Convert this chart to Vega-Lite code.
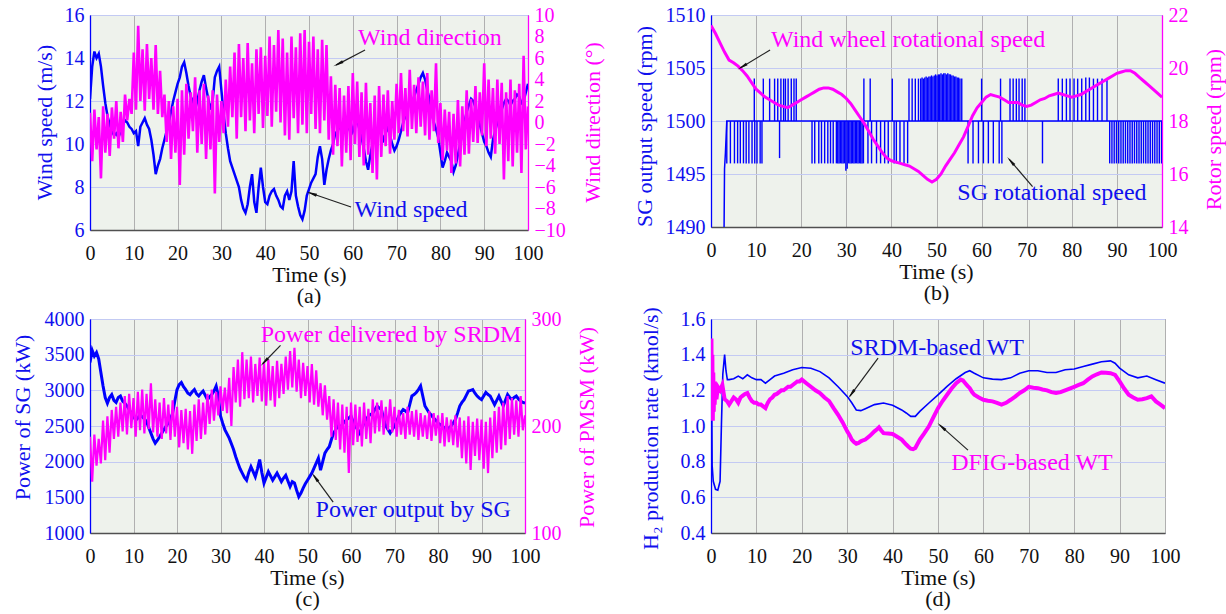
{
"$schema": "https://vega.github.io/schema/vega-lite/v6.json",
"autosize": {"type": "none"},
"padding": {"left": 90, "top": 15, "right": 1136, "bottom": 599},
"background": "white",
"config": {
 "font": "Liberation Serif, Times New Roman, DejaVu Serif, serif",
 "view": {"fill": "#eef2ec", "stroke": "#4d4d4d", "strokeWidth": 1},
 "axis": {"labelFont": "Liberation Serif, Times New Roman, DejaVu Serif, serif", "titleFont": "Liberation Serif, Times New Roman, DejaVu Serif, serif", "labelFontSize": 20, "titleFontSize": 22, "titleFontWeight": "normal", "ticks": false, "tickSize": 0, "labelFlush": false, "labelOverlap": false, "labelPadding": 6, "domainWidth": 1.3, "gridWidth": 1},
 "title": {"font": "Liberation Serif, Times New Roman, DejaVu Serif, serif", "fontSize": 22, "fontWeight": "normal", "color": "#111111"},
 "text": {"font": "Liberation Serif, Times New Roman, DejaVu Serif, serif"}
},
"datasets": {
 "a": [{"t":0,"s":12.1,"d":0.9},{"t":0.5,"s":13.6,"d":-3.6},{"t":1,"s":14.3,"d":1.2},{"t":1.5,"s":14.0,"d":-2.5},{"t":2,"s":14.2,"d":0.5},{"t":2.5,"s":13.6,"d":-5.2},{"t":3,"s":12.7,"d":1.5},{"t":3.5,"s":11.9,"d":-2.8},{"t":4,"s":11.3,"d":0.8},{"t":4.5,"s":10.9,"d":-3.1},{"t":5,"s":10.6,"d":1.4},{"t":5.5,"s":10.4,"d":-1.5},{"t":6,"s":10.5,"d":2.0},{"t":6.5,"s":10.3,"d":-2.4},{"t":7,"s":10.6,"d":1.0},{"t":7.5,"s":10.9,"d":-1.8},{"t":8,"s":11.1,"d":2.6},{"t":8.5,"s":11.0,"d":0.2},{"t":9,"s":10.8,"d":2.2},{"t":9.5,"s":10.7,"d":0.8},{"t":10,"s":10.5,"d":6.5},{"t":10.5,"s":10.6,"d":1.2},{"t":11,"s":9.9,"d":9.0},{"t":11.5,"s":10.8,"d":2.0},{"t":12,"s":11.0,"d":6.8},{"t":12.5,"s":11.2,"d":1.1},{"t":13,"s":10.9,"d":7.3},{"t":13.5,"s":10.7,"d":2.2},{"t":14,"s":10.2,"d":6.0},{"t":14.5,"s":9.5,"d":1.2},{"t":15,"s":8.6,"d":7.2},{"t":15.5,"s":9.0,"d":0.8},{"t":16,"s":9.3,"d":4.8},{"t":16.5,"s":9.8,"d":0.5},{"t":17,"s":10.2,"d":2.6},{"t":17.5,"s":10.6,"d":-1.8},{"t":18,"s":11.0,"d":2.0},{"t":18.5,"s":11.5,"d":-3.4},{"t":19,"s":12.0,"d":1.5},{"t":19.5,"s":12.4,"d":-2.8},{"t":20,"s":12.8,"d":2.2},{"t":20.5,"s":13.1,"d":-5.8},{"t":21,"s":13.6,"d":3.0},{"t":21.5,"s":13.8,"d":-3.0},{"t":22,"s":13.3,"d":3.6},{"t":22.5,"s":12.7,"d":-1.5},{"t":23,"s":12.2,"d":2.8},{"t":23.5,"s":12.0,"d":-0.8},{"t":24,"s":11.6,"d":4.2},{"t":24.5,"s":12.0,"d":-2.8},{"t":25,"s":12.5,"d":3.0},{"t":25.5,"s":12.9,"d":-2.0},{"t":26,"s":13.2,"d":3.6},{"t":26.5,"s":12.6,"d":-3.4},{"t":27,"s":12.1,"d":2.5},{"t":27.5,"s":11.6,"d":-2.5},{"t":28,"s":12.0,"d":3.0},{"t":28.5,"s":13.1,"d":-6.6},{"t":29,"s":13.4,"d":2.6},{"t":29.5,"s":13.6,"d":-1.8},{"t":30,"s":12.5,"d":2.0},{"t":30.5,"s":11.4,"d":-1.0},{"t":31,"s":10.5,"d":4.0},{"t":31.5,"s":9.8,"d":-0.4},{"t":32,"s":9.2,"d":5.2},{"t":32.5,"s":8.9,"d":0.5},{"t":33,"s":8.6,"d":6.5},{"t":33.5,"s":8.3,"d":-1.5},{"t":34,"s":8.0,"d":7.3},{"t":34.5,"s":7.4,"d":0.5},{"t":35,"s":7.0,"d":6.0},{"t":35.5,"s":6.8,"d":-0.8},{"t":36,"s":7.2,"d":7.4},{"t":36.5,"s":8.0,"d":0.2},{"t":37,"s":8.6,"d":5.5},{"t":37.5,"s":7.3,"d":-1.0},{"t":38,"s":6.8,"d":6.8},{"t":38.5,"s":8.0,"d":0.8},{"t":39,"s":8.9,"d":7.0},{"t":39.5,"s":8.0,"d":-0.5},{"t":40,"s":7.3,"d":6.2},{"t":40.5,"s":7.2,"d":0.6},{"t":41,"s":7.6,"d":8.0},{"t":41.5,"s":7.8,"d":-0.4},{"t":42,"s":7.9,"d":7.2},{"t":42.5,"s":7.6,"d":1.0},{"t":43,"s":7.4,"d":8.6},{"t":43.5,"s":7.1,"d":0.0},{"t":44,"s":7.0,"d":7.8},{"t":44.5,"s":7.6,"d":-1.2},{"t":45,"s":7.8,"d":6.5},{"t":45.5,"s":7.4,"d":-1.6},{"t":46,"s":7.8,"d":8.0},{"t":46.5,"s":9.2,"d":0.4},{"t":47,"s":7.6,"d":7.0},{"t":47.5,"s":7.1,"d":-1.0},{"t":48,"s":6.7,"d":8.3},{"t":48.5,"s":6.5,"d":-0.2},{"t":49,"s":6.9,"d":8.6},{"t":49.5,"s":7.6,"d":-1.0},{"t":50,"s":7.9,"d":7.5},{"t":50.5,"s":8.2,"d":0.8},{"t":51,"s":8.4,"d":8.0},{"t":51.5,"s":8.6,"d":-0.6},{"t":52,"s":9.4,"d":6.8},{"t":52.5,"s":9.9,"d":-1.0},{"t":53,"s":9.3,"d":7.7},{"t":53.5,"s":8.1,"d":0.2},{"t":54,"s":8.8,"d":7.2},{"t":54.5,"s":9.3,"d":-1.6},{"t":55,"s":9.7,"d":4.3},{"t":55.5,"s":10.0,"d":-3.0},{"t":56,"s":10.5,"d":3.5},{"t":56.5,"s":10.6,"d":-2.2},{"t":57,"s":10.8,"d":3.2},{"t":57.5,"s":10.9,"d":-4.1},{"t":58,"s":10.7,"d":2.5},{"t":58.5,"s":10.5,"d":-2.8},{"t":59,"s":10.8,"d":3.4},{"t":59.5,"s":11.0,"d":-3.5},{"t":60,"s":10.6,"d":4.6},{"t":60.5,"s":10.9,"d":-2.0},{"t":61,"s":11.1,"d":3.8},{"t":61.5,"s":10.7,"d":-3.2},{"t":62,"s":10.3,"d":2.8},{"t":62.5,"s":9.8,"d":-4.0},{"t":63,"s":9.2,"d":3.7},{"t":63.5,"s":8.8,"d":-3.0},{"t":64,"s":9.5,"d":1.8},{"t":64.5,"s":10.0,"d":-4.7},{"t":65,"s":10.2,"d":2.5},{"t":65.5,"s":10.6,"d":-5.3},{"t":66,"s":10.9,"d":3.4},{"t":66.5,"s":10.5,"d":-3.2},{"t":67,"s":10.2,"d":2.6},{"t":67.5,"s":10.5,"d":-2.2},{"t":68,"s":10.8,"d":3.0},{"t":68.5,"s":10.4,"d":-2.9},{"t":69,"s":10.0,"d":2.0},{"t":69.5,"s":9.7,"d":-1.6},{"t":70,"s":9.9,"d":3.6},{"t":70.5,"s":10.2,"d":-1.0},{"t":71,"s":10.6,"d":4.6},{"t":71.5,"s":11.0,"d":-0.8},{"t":72,"s":11.3,"d":3.2},{"t":72.5,"s":11.7,"d":-1.3},{"t":73,"s":12.0,"d":4.9},{"t":73.5,"s":11.8,"d":-0.6},{"t":74,"s":12.2,"d":3.5},{"t":74.5,"s":12.5,"d":-1.0},{"t":75,"s":12.8,"d":4.2},{"t":75.5,"s":13.1,"d":-0.4},{"t":76,"s":13.3,"d":3.8},{"t":76.5,"s":13.0,"d":-1.2},{"t":77,"s":12.5,"d":4.6},{"t":77.5,"s":12.1,"d":-1.6},{"t":78,"s":11.5,"d":3.0},{"t":78.5,"s":11.0,"d":-0.8},{"t":79,"s":10.7,"d":5.5},{"t":79.5,"s":10.3,"d":-1.9},{"t":80,"s":9.6,"d":1.8},{"t":80.5,"s":8.9,"d":-3.5},{"t":81,"s":9.2,"d":1.2},{"t":81.5,"s":9.6,"d":-2.6},{"t":82,"s":9.4,"d":1.0},{"t":82.5,"s":9.2,"d":-4.7},{"t":83,"s":8.7,"d":0.8},{"t":83.5,"s":9.0,"d":-3.8},{"t":84,"s":9.5,"d":2.1},{"t":84.5,"s":10.0,"d":-4.1},{"t":85,"s":10.5,"d":1.5},{"t":85.5,"s":11.0,"d":-3.0},{"t":86,"s":11.5,"d":3.0},{"t":86.5,"s":11.8,"d":-2.9},{"t":87,"s":12.1,"d":2.2},{"t":87.5,"s":12.0,"d":-1.8},{"t":88,"s":11.7,"d":3.4},{"t":88.5,"s":11.3,"d":-1.9},{"t":89,"s":10.9,"d":2.8},{"t":89.5,"s":10.5,"d":-1.2},{"t":90,"s":10.1,"d":5.5},{"t":90.5,"s":9.9,"d":-2.2},{"t":91,"s":9.6,"d":4.0},{"t":91.5,"s":9.4,"d":-1.5},{"t":92,"s":10.2,"d":3.2},{"t":92.5,"s":10.6,"d":-2.9},{"t":93,"s":11.0,"d":4.0},{"t":93.5,"s":11.3,"d":-2.0},{"t":94,"s":11.6,"d":3.7},{"t":94.5,"s":11.9,"d":-5.3},{"t":95,"s":12.1,"d":2.8},{"t":95.5,"s":12.0,"d":-3.6},{"t":96,"s":11.8,"d":4.0},{"t":96.5,"s":12.0,"d":-4.1},{"t":97,"s":12.1,"d":3.0},{"t":97.5,"s":12.3,"d":-2.8},{"t":98,"s":12.2,"d":3.6},{"t":98.5,"s":11.9,"d":-4.7},{"t":99,"s":12.0,"d":6.2},{"t":99.5,"s":12.4,"d":-2.5},{"t":100,"s":12.8,"d":1.5}],
 "b_base": [{"t":2.9,"v":1490},{"t":3.0,"v":1495.5},{"t":3.2,"v":1497},{"t":3.5,"v":1500},{"t":100,"v":1500}],
 "b_spk": [{"t":3.5,"v":1496},{"t":4.3,"v":1496},{"t":5.2,"v":1496},{"t":5.9,"v":1496},{"t":6.5,"v":1496},{"t":7.2,"v":1496},{"t":7.8,"v":1496},{"t":8.4,"v":1496},{"t":9.1,"v":1496},{"t":9.7,"v":1496},{"t":10.2,"v":1496},{"t":10.9,"v":1496},{"t":11.3,"v":1496},{"t":15.2,"v":1496.5},
  {"t":9.6,"v":1504},{"t":11.6,"v":1504},{"t":13.0,"v":1504},{"t":14.1,"v":1504},{"t":14.8,"v":1504},{"t":15.5,"v":1504},{"t":16.1,"v":1504},{"t":16.5,"v":1504},{"t":17.1,"v":1504},{"t":17.8,"v":1504},{"t":18.4,"v":1504},{"t":18.9,"v":1504},
  {"t":22.4,"v":1496},{"t":23.0,"v":1496},{"t":23.9,"v":1496},{"t":24.5,"v":1496},{"t":25.2,"v":1496},{"t":25.9,"v":1496},{"t":26.5,"v":1496},{"t":27.1,"v":1496},{"t":27.8,"v":1496},{"t":28.1,"v":1496},{"t":28.4,"v":1496},{"t":28.7,"v":1496},{"t":29.0,"v":1496},{"t":29.3,"v":1496},{"t":29.6,"v":1496},{"t":29.9,"v":1495.3},{"t":30.2,"v":1495.5},{"t":30.5,"v":1496},{"t":30.8,"v":1496},{"t":31.1,"v":1496},{"t":31.4,"v":1496},{"t":31.7,"v":1496},{"t":32.0,"v":1496},{"t":32.3,"v":1496},{"t":32.6,"v":1496},{"t":32.9,"v":1496},{"t":33.2,"v":1496},{"t":33.5,"v":1496},{"t":33.8,"v":1496},{"t":34.8,"v":1496},{"t":35.6,"v":1496},{"t":36.7,"v":1496},{"t":37.6,"v":1496},{"t":38.5,"v":1496},{"t":39.3,"v":1496},{"t":40.6,"v":1496},{"t":41.1,"v":1496},{"t":41.9,"v":1496},{"t":42.8,"v":1496},{"t":43.6,"v":1496},
  {"t":33.9,"v":1504},{"t":35.3,"v":1504},{"t":40.2,"v":1504},{"t":43.9,"v":1504},{"t":44.6,"v":1504},{"t":45.3,"v":1504},{"t":46.0,"v":1504},{"t":46.5,"v":1504.0},{"t":46.8,"v":1504.1},{"t":47.1,"v":1504.0},{"t":47.4,"v":1504.1},{"t":47.7,"v":1504.2},{"t":48.0,"v":1504.1},{"t":48.3,"v":1504.2},{"t":48.6,"v":1504.2},{"t":48.9,"v":1504.3},{"t":49.2,"v":1504.2},{"t":49.5,"v":1504.3},{"t":49.8,"v":1504.4},{"t":50.1,"v":1504.3},{"t":50.4,"v":1504.4},{"t":50.7,"v":1504.4},{"t":51.0,"v":1504.5},{"t":51.3,"v":1504.4},{"t":51.6,"v":1504.5},{"t":51.9,"v":1504.5},{"t":52.2,"v":1504.4},{"t":52.5,"v":1504.5},{"t":52.8,"v":1504.4},{"t":53.1,"v":1504.4},{"t":53.4,"v":1504.3},{"t":53.7,"v":1504.3},{"t":54.0,"v":1504.2},{"t":54.3,"v":1504.2},{"t":54.6,"v":1504.1},{"t":54.9,"v":1504.1},{"t":55.2,"v":1504.0},{"t":55.6,"v":1504.0},
  {"t":57.0,"v":1496},{"t":58.1,"v":1496},{"t":59.3,"v":1496},{"t":60.4,"v":1496},{"t":61.5,"v":1496},{"t":62.6,"v":1496},{"t":63.9,"v":1496},{"t":64.5,"v":1496},
  {"t":60.0,"v":1504},{"t":64.2,"v":1504},{"t":66.3,"v":1504},{"t":67.0,"v":1504},{"t":67.7,"v":1504},{"t":68.3,"v":1504},{"t":69.0,"v":1504},{"t":69.6,"v":1504},
  {"t":73.5,"v":1496},
  {"t":77.0,"v":1504},{"t":77.9,"v":1504},{"t":78.8,"v":1504},{"t":79.6,"v":1504},{"t":80.5,"v":1504},{"t":81.3,"v":1504},{"t":82.2,"v":1504},{"t":83.1,"v":1504.1},{"t":83.9,"v":1504.1},{"t":84.8,"v":1504},{"t":85.7,"v":1504},{"t":86.7,"v":1504},{"t":87.8,"v":1504},
  {"t":88.4,"v":1496},{"t":88.9,"v":1496},{"t":89.4,"v":1496},{"t":89.9,"v":1496},{"t":90.4,"v":1496},{"t":90.9,"v":1496},{"t":91.4,"v":1496},{"t":91.9,"v":1496},{"t":92.4,"v":1496},{"t":92.9,"v":1496},{"t":93.4,"v":1496},{"t":93.9,"v":1496},{"t":94.4,"v":1496},{"t":94.9,"v":1496},{"t":95.4,"v":1496},{"t":95.9,"v":1496},{"t":96.4,"v":1496},{"t":96.9,"v":1496},{"t":97.4,"v":1496},{"t":97.9,"v":1496},{"t":98.4,"v":1496},{"t":98.9,"v":1496},{"t":99.4,"v":1496},{"t":99.9,"v":1496}],
 "b_ww": [{"t":0,"r":21.6},{"t":1,"r":21.3},{"t":2,"r":20.95},{"t":3,"r":20.6},{"t":4,"r":20.3},{"t":5,"r":20.2},{"t":6,"r":20.07},{"t":7,"r":19.9},{"t":8,"r":19.7},{"t":9,"r":19.45},{"t":10,"r":19.2},{"t":11,"r":19.05},{"t":12,"r":18.9},{"t":13,"r":18.8},{"t":14,"r":18.7},{"t":15,"r":18.6},{"t":16,"r":18.55},{"t":17,"r":18.5},{"t":18,"r":18.6},{"t":19,"r":18.7},{"t":20,"r":18.8},{"t":21,"r":18.9},{"t":22,"r":19.0},{"t":23,"r":19.1},{"t":24,"r":19.2},{"t":25,"r":19.25},{"t":26,"r":19.25},{"t":27,"r":19.2},{"t":28,"r":19.1},{"t":29,"r":19.0},{"t":30,"r":18.85},{"t":31,"r":18.65},{"t":32,"r":18.4},{"t":33,"r":18.15},{"t":34,"r":17.9},{"t":35,"r":17.6},{"t":36,"r":17.3},{"t":37,"r":17.05},{"t":38,"r":16.8},{"t":39,"r":16.6},{"t":40,"r":16.5},{"t":41,"r":16.45},{"t":42,"r":16.4},{"t":43,"r":16.35},{"t":44,"r":16.3},{"t":45,"r":16.2},{"t":46,"r":16.1},{"t":47,"r":15.95},{"t":48,"r":15.8},{"t":49,"r":15.7},{"t":50,"r":15.8},{"t":51,"r":16.0},{"t":52,"r":16.3},{"t":53,"r":16.55},{"t":54,"r":16.8},{"t":55,"r":17.1},{"t":56,"r":17.4},{"t":57,"r":17.8},{"t":58,"r":18.2},{"t":59,"r":18.5},{"t":60,"r":18.7},{"t":61,"r":18.9},{"t":62,"r":19.0},{"t":63,"r":18.95},{"t":64,"r":18.9},{"t":65,"r":18.8},{"t":66,"r":18.7},{"t":67,"r":18.7},{"t":68,"r":18.7},{"t":69,"r":18.6},{"t":70,"r":18.55},{"t":71,"r":18.6},{"t":72,"r":18.7},{"t":73,"r":18.8},{"t":74,"r":18.85},{"t":75,"r":18.95},{"t":76,"r":19.0},{"t":77,"r":19.05},{"t":78,"r":19.0},{"t":79,"r":18.95},{"t":80,"r":18.9},{"t":81,"r":18.95},{"t":82,"r":19.0},{"t":83,"r":19.1},{"t":84,"r":19.2},{"t":85,"r":19.3},{"t":86,"r":19.4},{"t":87,"r":19.5},{"t":88,"r":19.6},{"t":89,"r":19.7},{"t":90,"r":19.8},{"t":91,"r":19.85},{"t":92,"r":19.9},{"t":93,"r":19.9},{"t":94,"r":19.8},{"t":95,"r":19.65},{"t":96,"r":19.5},{"t":97,"r":19.35},{"t":98,"r":19.2},{"t":99,"r":19.05},{"t":100,"r":18.9}],
 "c": [{"t":0,"p":3390,"q":190},{"t":0.5,"p":3560,"q":148},{"t":1,"p":3480,"q":192},{"t":1.5,"p":3530,"q":163},{"t":2,"p":3440,"q":188},{"t":2.5,"p":3250,"q":165},{"t":3,"p":3060,"q":205},{"t":3.5,"p":2900,"q":168},{"t":4,"p":2820,"q":209},{"t":4.5,"p":2900,"q":175},{"t":5,"p":2940,"q":215},{"t":5.5,"p":2860,"q":188},{"t":6,"p":2830,"q":218},{"t":6.5,"p":2900,"q":190},{"t":7,"p":2920,"q":222},{"t":7.5,"p":2850,"q":195},{"t":8,"p":2820,"q":228},{"t":8.5,"p":2780,"q":192},{"t":9,"p":2730,"q":230},{"t":9.5,"p":2680,"q":198},{"t":10,"p":2640,"q":226},{"t":10.5,"p":2580,"q":190},{"t":11,"p":2610,"q":232},{"t":11.5,"p":2660,"q":196},{"t":12,"p":2630,"q":234},{"t":12.5,"p":2600,"q":193},{"t":13,"p":2560,"q":230},{"t":13.5,"p":2480,"q":197},{"t":14,"p":2400,"q":240},{"t":14.5,"p":2320,"q":194},{"t":15,"p":2260,"q":225},{"t":15.5,"p":2300,"q":190},{"t":16,"p":2350,"q":222},{"t":16.5,"p":2400,"q":188},{"t":17,"p":2450,"q":226},{"t":17.5,"p":2500,"q":193},{"t":18,"p":2540,"q":220},{"t":18.5,"p":2600,"q":187},{"t":19,"p":2680,"q":224},{"t":19.5,"p":2850,"q":190},{"t":20,"p":3010,"q":218},{"t":20.5,"p":3080,"q":180},{"t":21,"p":3110,"q":215},{"t":21.5,"p":3050,"q":184},{"t":22,"p":3010,"q":216},{"t":22.5,"p":2960,"q":178},{"t":23,"p":2940,"q":214},{"t":23.5,"p":2980,"q":174},{"t":24,"p":3010,"q":220},{"t":24.5,"p":2950,"q":186},{"t":25,"p":2920,"q":225},{"t":25.5,"p":2960,"q":188},{"t":26,"p":2990,"q":222},{"t":26.5,"p":2930,"q":192},{"t":27,"p":2870,"q":230},{"t":27.5,"p":2910,"q":202},{"t":28,"p":2940,"q":234},{"t":28.5,"p":2990,"q":205},{"t":29,"p":3060,"q":232},{"t":29.5,"p":2920,"q":210},{"t":30,"p":2640,"q":237},{"t":30.5,"p":2540,"q":214},{"t":31,"p":2450,"q":236},{"t":31.5,"p":2390,"q":212},{"t":32,"p":2330,"q":245},{"t":32.5,"p":2250,"q":200},{"t":33,"p":2170,"q":255},{"t":33.5,"p":2070,"q":222},{"t":34,"p":1980,"q":262},{"t":34.5,"p":1900,"q":218},{"t":35,"p":1840,"q":269},{"t":35.5,"p":1780,"q":225},{"t":36,"p":1740,"q":262},{"t":36.5,"p":1850,"q":226},{"t":37,"p":1930,"q":265},{"t":37.5,"p":1860,"q":222},{"t":38,"p":1790,"q":258},{"t":38.5,"p":1900,"q":228},{"t":39,"p":2030,"q":264},{"t":39.5,"p":1850,"q":223},{"t":40,"p":1700,"q":260},{"t":40.5,"p":1780,"q":219},{"t":41,"p":1860,"q":262},{"t":41.5,"p":1800,"q":224},{"t":42,"p":1740,"q":256},{"t":42.5,"p":1790,"q":218},{"t":43,"p":1840,"q":261},{"t":43.5,"p":1780,"q":226},{"t":44,"p":1720,"q":258},{"t":44.5,"p":1770,"q":230},{"t":45,"p":1810,"q":265},{"t":45.5,"p":1730,"q":234},{"t":46,"p":1650,"q":270},{"t":46.5,"p":1720,"q":236},{"t":47,"p":1700,"q":273},{"t":47.5,"p":1600,"q":232},{"t":48,"p":1510,"q":262},{"t":48.5,"p":1560,"q":226},{"t":49,"p":1630,"q":259},{"t":49.5,"p":1690,"q":228},{"t":50,"p":1740,"q":256},{"t":50.5,"p":1790,"q":222},{"t":51,"p":1840,"q":258},{"t":51.5,"p":1910,"q":220},{"t":52,"p":1980,"q":252},{"t":52.5,"p":2050,"q":218},{"t":53,"p":1880,"q":240},{"t":53.5,"p":2000,"q":210},{"t":54,"p":2120,"q":238},{"t":54.5,"p":2170,"q":206},{"t":55,"p":2210,"q":228},{"t":55.5,"p":2310,"q":190},{"t":56,"p":2400,"q":225},{"t":56.5,"p":2450,"q":187},{"t":57,"p":2500,"q":222},{"t":57.5,"p":2480,"q":178},{"t":58,"p":2520,"q":220},{"t":58.5,"p":2560,"q":175},{"t":59,"p":2590,"q":218},{"t":59.5,"p":2610,"q":156},{"t":60,"p":2640,"q":222},{"t":60.5,"p":2560,"q":182},{"t":61,"p":2500,"q":220},{"t":61.5,"p":2450,"q":185},{"t":62,"p":2400,"q":218},{"t":62.5,"p":2470,"q":181},{"t":63,"p":2540,"q":222},{"t":63.5,"p":2590,"q":188},{"t":64,"p":2640,"q":216},{"t":64.5,"p":2660,"q":184},{"t":65,"p":2680,"q":225},{"t":65.5,"p":2730,"q":193},{"t":66,"p":2780,"q":222},{"t":66.5,"p":2750,"q":195},{"t":67,"p":2730,"q":224},{"t":67.5,"p":2610,"q":192},{"t":68,"p":2500,"q":218},{"t":68.5,"p":2450,"q":196},{"t":69,"p":2400,"q":225},{"t":69.5,"p":2450,"q":194},{"t":70,"p":2500,"q":218},{"t":70.5,"p":2570,"q":190},{"t":71,"p":2640,"q":215},{"t":71.5,"p":2690,"q":192},{"t":72,"p":2730,"q":212},{"t":72.5,"p":2710,"q":188},{"t":73,"p":2680,"q":218},{"t":73.5,"p":2800,"q":192},{"t":74,"p":2920,"q":214},{"t":74.5,"p":2940,"q":190},{"t":75,"p":2970,"q":215},{"t":75.5,"p":3010,"q":187},{"t":76,"p":3060,"q":212},{"t":76.5,"p":2920,"q":190},{"t":77,"p":2780,"q":210},{"t":77.5,"p":2730,"q":188},{"t":78,"p":2680,"q":214},{"t":78.5,"p":2650,"q":186},{"t":79,"p":2610,"q":212},{"t":79.5,"p":2580,"q":191},{"t":80,"p":2540,"q":210},{"t":80.5,"p":2520,"q":184},{"t":81,"p":2500,"q":212},{"t":81.5,"p":2470,"q":181},{"t":82,"p":2450,"q":208},{"t":82.5,"p":2470,"q":185},{"t":83,"p":2500,"q":206},{"t":83.5,"p":2540,"q":182},{"t":84,"p":2590,"q":210},{"t":84.5,"p":2680,"q":180},{"t":85,"p":2780,"q":208},{"t":85.5,"p":2830,"q":170},{"t":86,"p":2870,"q":205},{"t":86.5,"p":2930,"q":165},{"t":87,"p":2990,"q":209},{"t":87.5,"p":3000,"q":159},{"t":88,"p":3010,"q":204},{"t":88.5,"p":2960,"q":172},{"t":89,"p":2920,"q":207},{"t":89.5,"p":2890,"q":168},{"t":90,"p":2870,"q":206},{"t":90.5,"p":2920,"q":160},{"t":91,"p":2970,"q":204},{"t":91.5,"p":2940,"q":156},{"t":92,"p":2920,"q":208},{"t":92.5,"p":2860,"q":170},{"t":93,"p":2800,"q":214},{"t":93.5,"p":2860,"q":175},{"t":94,"p":2920,"q":218},{"t":94.5,"p":2850,"q":178},{"t":95,"p":2780,"q":222},{"t":95.5,"p":2860,"q":182},{"t":96,"p":2940,"q":228},{"t":96.5,"p":2900,"q":188},{"t":97,"p":2870,"q":226},{"t":97.5,"p":2900,"q":192},{"t":98,"p":2920,"q":224},{"t":98.5,"p":2880,"q":190},{"t":99,"p":2850,"q":228},{"t":99.5,"p":2830,"q":196},{"t":100,"p":2820,"q":210}],
 "d_b": [{"t":0,"v":1.59},{"t":0.15,"v":1.2},{"t":0.25,"v":0.78},{"t":0.5,"v":0.69},{"t":1,"v":0.645},{"t":1.5,"v":0.64},{"t":2,"v":0.69},{"t":2.3,"v":1.01},{"t":2.6,"v":1.29},{"t":3,"v":1.40},{"t":3.3,"v":1.31},{"t":3.6,"v":1.26},{"t":4,"v":1.26},{"t":5,"v":1.265},{"t":6,"v":1.28},{"t":7,"v":1.265},{"t":8,"v":1.287},{"t":9,"v":1.27},{"t":10,"v":1.26},{"t":11,"v":1.26},{"t":12,"v":1.24},{"t":13,"v":1.26},{"t":14,"v":1.28},{"t":16,"v":1.296},{"t":18,"v":1.315},{"t":20,"v":1.328},{"t":22,"v":1.324},{"t":24,"v":1.305},{"t":26,"v":1.27},{"t":28,"v":1.22},{"t":30,"v":1.166},{"t":31,"v":1.13},{"t":32,"v":1.09},{"t":33,"v":1.086},{"t":34,"v":1.097},{"t":36,"v":1.12},{"t":38,"v":1.129},{"t":40,"v":1.116},{"t":42,"v":1.09},{"t":43,"v":1.073},{"t":44,"v":1.054},{"t":45,"v":1.054},{"t":46,"v":1.082},{"t":48,"v":1.129},{"t":50,"v":1.175},{"t":52,"v":1.222},{"t":54,"v":1.265},{"t":56,"v":1.30},{"t":57,"v":1.31},{"t":58,"v":1.296},{"t":60,"v":1.27},{"t":62,"v":1.263},{"t":64,"v":1.26},{"t":66,"v":1.27},{"t":68,"v":1.296},{"t":70,"v":1.31},{"t":72,"v":1.31},{"t":74,"v":1.30},{"t":76,"v":1.30},{"t":78,"v":1.315},{"t":80,"v":1.32},{"t":82,"v":1.334},{"t":84,"v":1.347},{"t":86,"v":1.36},{"t":88,"v":1.365},{"t":89,"v":1.352},{"t":90,"v":1.325},{"t":92,"v":1.287},{"t":94,"v":1.27},{"t":96,"v":1.28},{"t":98,"v":1.26},{"t":100,"v":1.24}],
 "d_m": [{"t":0,"v":1.20},{"t":0.1,"v":1.49},{"t":0.2,"v":1.05},{"t":0.3,"v":1.40},{"t":0.4,"v":1.03},{"t":0.5,"v":1.30},{"t":0.6,"v":1.08},{"t":0.7,"v":1.25},{"t":0.8,"v":1.12},{"t":1.0,"v":1.24},{"t":1.2,"v":1.15},{"t":1.5,"v":1.22},{"t":2,"v":1.20},{"t":2.5,"v":1.23},{"t":3,"v":1.15},{"t":3.5,"v":1.14},{"t":4,"v":1.12},{"t":4.5,"v":1.14},{"t":5,"v":1.16},{"t":5.5,"v":1.15},{"t":6,"v":1.13},{"t":6.5,"v":1.16},{"t":7,"v":1.17},{"t":7.5,"v":1.18},{"t":8,"v":1.185},{"t":8.5,"v":1.16},{"t":9,"v":1.14},{"t":9.5,"v":1.13},{"t":10,"v":1.13},{"t":10.5,"v":1.12},{"t":11,"v":1.12},{"t":11.5,"v":1.11},{"t":12,"v":1.10},{"t":12.5,"v":1.13},{"t":13,"v":1.15},{"t":13.5,"v":1.16},{"t":14,"v":1.175},{"t":14.5,"v":1.18},{"t":15,"v":1.19},{"t":15.5,"v":1.2},{"t":16,"v":1.2},{"t":16.5,"v":1.21},{"t":17,"v":1.22},{"t":17.5,"v":1.22},{"t":18,"v":1.23},{"t":18.5,"v":1.24},{"t":19,"v":1.25},{"t":19.5,"v":1.25},{"t":20,"v":1.26},{"t":20.5,"v":1.25},{"t":21,"v":1.24},{"t":21.5,"v":1.23},{"t":22,"v":1.22},{"t":23,"v":1.20},{"t":24,"v":1.185},{"t":25,"v":1.16},{"t":26,"v":1.14},{"t":27,"v":1.10},{"t":28,"v":1.063},{"t":29,"v":1.02},{"t":30,"v":0.97},{"t":30.5,"v":0.95},{"t":31,"v":0.924},{"t":31.5,"v":0.91},{"t":32,"v":0.90},{"t":32.5,"v":0.905},{"t":33,"v":0.914},{"t":33.5,"v":0.92},{"t":34,"v":0.924},{"t":35,"v":0.945},{"t":36,"v":0.97},{"t":36.5,"v":0.98},{"t":37,"v":0.993},{"t":37.5,"v":0.975},{"t":38,"v":0.96},{"t":39,"v":0.958},{"t":40,"v":0.955},{"t":41,"v":0.94},{"t":42,"v":0.924},{"t":42.5,"v":0.91},{"t":43,"v":0.896},{"t":43.5,"v":0.884},{"t":44,"v":0.873},{"t":44.5,"v":0.87},{"t":45,"v":0.877},{"t":45.5,"v":0.9},{"t":46,"v":0.924},{"t":47,"v":0.96},{"t":48,"v":0.998},{"t":49,"v":1.05},{"t":50,"v":1.10},{"t":51,"v":1.14},{"t":52,"v":1.175},{"t":53,"v":1.21},{"t":54,"v":1.24},{"t":54.5,"v":1.25},{"t":55,"v":1.26},{"t":55.5,"v":1.255},{"t":56,"v":1.24},{"t":56.5,"v":1.225},{"t":57,"v":1.212},{"t":57.5,"v":1.19},{"t":58,"v":1.175},{"t":59,"v":1.16},{"t":60,"v":1.147},{"t":61,"v":1.142},{"t":62,"v":1.138},{"t":63,"v":1.13},{"t":64,"v":1.12},{"t":65,"v":1.13},{"t":66,"v":1.147},{"t":67,"v":1.165},{"t":68,"v":1.185},{"t":69,"v":1.20},{"t":70,"v":1.22},{"t":71,"v":1.215},{"t":72,"v":1.212},{"t":73,"v":1.205},{"t":74,"v":1.20},{"t":75,"v":1.19},{"t":76,"v":1.185},{"t":77,"v":1.19},{"t":78,"v":1.20},{"t":79,"v":1.21},{"t":80,"v":1.22},{"t":81,"v":1.23},{"t":82,"v":1.24},{"t":83,"v":1.26},{"t":84,"v":1.278},{"t":85,"v":1.29},{"t":86,"v":1.30},{"t":87,"v":1.298},{"t":88,"v":1.296},{"t":89,"v":1.287},{"t":90,"v":1.25},{"t":91,"v":1.21},{"t":92,"v":1.175},{"t":93,"v":1.16},{"t":94,"v":1.147},{"t":95,"v":1.15},{"t":96,"v":1.156},{"t":97,"v":1.166},{"t":98,"v":1.138},{"t":99,"v":1.12},{"t":100,"v":1.10}]
},
"columns": 2,
"spacing": {"row": 89, "column": 183},
"bounds": "flush",
"concat": [
  {"width": 438, "height": 215,
   "title": {"text": "(a)", "orient": "bottom", "frame": "group", "anchor": "middle", "baseline": "middle", "offset": 11},
   "layer": [
    {"data": {"name": "a"}, "mark": {"type": "line", "color": "#0000ff", "strokeWidth": 2.5, "clip": true},
     "encoding": {
      "x": {"field": "t", "type": "quantitative", "scale": {"domain": [0, 100], "nice": false},
        "axis": {"title": "Time (s)", "values": [0,10,20,30,40,50,60,70,80,90,100], "grid": true, "gridColor": "#b0b0b0", "domainColor": "#505050", "labelColor": "#111111", "titleColor": "#111111", "labelPadding": 13, "labelOverlap": false, "titleFontWeight": "normal", "titleX": 219, "titleY": 44, "titleBaseline": "middle"}},
      "y": {"field": "s", "type": "quantitative", "scale": {"domain": [6, 16], "nice": false, "zero": false},
        "axis": {"title": "Wind speed (m/s)", "values": [6,8,10,12,14,16], "labelOverlap": false, "grid": true, "gridColor": "#c3caf3", "domainColor": "#0000ff", "labelColor": "#1010ee", "titleColor": "#1010ee", "titleAngle": -90, "titleAlign": "center", "titleBaseline": "middle", "titleX": -46, "titleY": 107}}}},
    {"data": {"name": "a"}, "mark": {"type": "line", "color": "#ff00ff", "strokeWidth": 2.6, "clip": true},
     "encoding": {
      "x": {"field": "t", "type": "quantitative", "scale": {"domain": [0, 100], "nice": false}, "axis": null},
      "y": {"field": "d", "type": "quantitative", "scale": {"domain": [-10, 10], "nice": false, "zero": false},
        "axis": {"orient": "right", "title": "Wind direction (°)", "values": [-10,-8,-6,-4,-2,0,2,4,6,8,10], "labelOverlap": false, "grid": false, "domainColor": "#ff00ff", "labelColor": "#ff00ff", "titleColor": "#ff00ff", "titleAngle": -90, "titleAlign": "center", "titleBaseline": "middle", "titleX": 64, "titleY": 107}}}},
    {"resolve": {"axis": {"x": "independent", "y": "independent"}},
     "layer": [
     {"data": {"values": [{"x": 77.6, "y": 14.93, "label": "Wind direction"}]}, "mark": {"type": "text", "color": "#ff00ff", "fontSize": 24, "align": "center", "baseline": "middle"},
      "encoding": {"x": {"field": "x", "type": "quantitative", "scale": {"domain": [0, 100], "nice": false}, "axis": null}, "y": {"field": "y", "type": "quantitative", "scale": {"domain": [6, 16], "nice": false, "zero": false}, "axis": null}, "text": {"field": "label"}}},
     {"data": {"values": [{"x": 73.3, "y": 6.93, "label": "Wind speed"}]}, "mark": {"type": "text", "color": "#1010ee", "fontSize": 24, "align": "center", "baseline": "middle"},
      "encoding": {"x": {"field": "x", "type": "quantitative", "scale": {"domain": [0, 100], "nice": false}, "axis": null}, "y": {"field": "y", "type": "quantitative", "scale": {"domain": [6, 16], "nice": false, "zero": false}, "axis": null}, "text": {"field": "label"}}},
     {"data": {"values": [{"x": 62.8, "y": 14.37, "x2": 56.2, "y2": 13.67}, {"x": 59.6, "y": 7.07, "x2": 50.1, "y2": 7.73}]}, "mark": {"type": "rule", "color": "#222222", "strokeWidth": 1.2},
      "encoding": {"x": {"field": "x", "type": "quantitative", "scale": {"domain": [0, 100], "nice": false}, "axis": null}, "y": {"field": "y", "type": "quantitative", "scale": {"domain": [6, 16], "nice": false, "zero": false}, "axis": null}, "x2": {"field": "x2"}, "y2": {"field": "y2"}}},
     {"data": {"values": [{"x": 57.0, "y": 13.76}]}, "mark": {"type": "point", "shape": "wedge", "angle": 243, "size": 150, "filled": true, "color": "#111111", "opacity": 1},
      "encoding": {"x": {"field": "x", "type": "quantitative", "scale": {"domain": [0, 100], "nice": false}, "axis": null}, "y": {"field": "y", "type": "quantitative", "scale": {"domain": [6, 16], "nice": false, "zero": false}, "axis": null}}},
     {"data": {"values": [{"x": 50.96, "y": 7.67}]}, "mark": {"type": "point", "shape": "wedge", "angle": 290, "size": 150, "filled": true, "color": "#111111", "opacity": 1},
      "encoding": {"x": {"field": "x", "type": "quantitative", "scale": {"domain": [0, 100], "nice": false}, "axis": null}, "y": {"field": "y", "type": "quantitative", "scale": {"domain": [6, 16], "nice": false, "zero": false}, "axis": null}}}
    ]}
   ],
   "resolve": {"scale": {"y": "independent"}, "axis": {"x": "independent"}}
  },
  {"width": 451, "height": 212,
   "title": {"text": "(b)", "orient": "bottom", "frame": "group", "anchor": "middle", "baseline": "middle", "offset": 11},
   "layer": [
    {"resolve": {"axis": {"x": "independent", "y": "independent"}},
     "layer": [
     {"data": {"name": "b_base"}, "mark": {"type": "line", "color": "#0000ff", "strokeWidth": 1.5, "clip": true},
      "encoding": {
       "x": {"field": "t", "type": "quantitative", "scale": {"domain": [0, 100], "nice": false},
         "axis": {"title": "Time (s)", "values": [0,10,20,30,40,50,60,70,80,90,100], "grid": true, "gridColor": "#b0b0b0", "domainColor": "#505050", "labelColor": "#111111", "titleColor": "#111111", "labelPadding": 13, "labelOverlap": false, "titleFontWeight": "normal", "titleX": 225, "titleY": 44, "titleBaseline": "middle"}},
       "y": {"field": "v", "type": "quantitative", "scale": {"domain": [1490, 1510], "nice": false, "zero": false},
         "axis": {"title": "SG output speed (rpm)", "format": "d", "values": [1490,1495,1500,1505,1510], "labelOverlap": false, "grid": true, "gridColor": "#c3caf3", "domainColor": "#0000ff", "labelColor": "#1010ee", "titleColor": "#1010ee", "titleAngle": -90, "titleAlign": "center", "titleBaseline": "middle", "titleX": -67, "titleY": 111}}}},
     {"data": {"name": "b_spk"}, "mark": {"type": "rule", "color": "#0000ff", "strokeWidth": 1.4, "clip": true},
      "encoding": {
       "x": {"field": "t", "type": "quantitative", "scale": {"domain": [0, 100], "nice": false}, "axis": null},
       "y": {"field": "v", "type": "quantitative", "scale": {"domain": [1490, 1510], "nice": false, "zero": false}, "axis": null},
       "y2": {"datum": 1500}}}
    ]},
    {"data": {"name": "b_ww"}, "mark": {"type": "line", "color": "#ff00ff", "strokeWidth": 3, "clip": true},
     "encoding": {
      "x": {"field": "t", "type": "quantitative", "scale": {"domain": [0, 100], "nice": false}, "axis": null},
      "y": {"field": "r", "type": "quantitative", "scale": {"domain": [14, 22], "nice": false, "zero": false},
        "axis": {"orient": "right", "title": "Rotor speed  (rpm)", "values": [14,16,18,20,22], "labelOverlap": false, "grid": false, "domainColor": "#ff00ff", "labelColor": "#ff00ff", "titleColor": "#ff00ff", "titleAngle": -90, "titleAlign": "center", "titleBaseline": "middle", "titleX": 51, "titleY": 114}}}},
    {"resolve": {"axis": {"x": "independent", "y": "independent"}},
     "layer": [
     {"data": {"values": [{"x": 43.7, "y": 1507.64, "label": "Wind wheel rotational speed"}]}, "mark": {"type": "text", "color": "#ff00ff", "fontSize": 24, "align": "center", "baseline": "middle"},
      "encoding": {"x": {"field": "x", "type": "quantitative", "scale": {"domain": [0, 100], "nice": false}, "axis": null}, "y": {"field": "y", "type": "quantitative", "scale": {"domain": [1490, 1510], "nice": false, "zero": false}, "axis": null}, "text": {"field": "label"}}},
     {"data": {"values": [{"x": 75.6, "y": 1493.2, "label": "SG rotational speed"}]}, "mark": {"type": "text", "color": "#1010ee", "fontSize": 24, "align": "center", "baseline": "middle"},
      "encoding": {"x": {"field": "x", "type": "quantitative", "scale": {"domain": [0, 100], "nice": false}, "axis": null}, "y": {"field": "y", "type": "quantitative", "scale": {"domain": [1490, 1510], "nice": false, "zero": false}, "axis": null}, "text": {"field": "label"}}},
     {"data": {"values": [{"x": 13.1, "y": 1506.7, "x2": 6.5, "y2": 1505.0}, {"x": 71.3, "y": 1493.8, "x2": 66.1, "y2": 1496.4}]}, "mark": {"type": "rule", "color": "#222222", "strokeWidth": 1.2},
      "encoding": {"x": {"field": "x", "type": "quantitative", "scale": {"domain": [0, 100], "nice": false}, "axis": null}, "y": {"field": "y", "type": "quantitative", "scale": {"domain": [1490, 1510], "nice": false, "zero": false}, "axis": null}, "x2": {"field": "x2"}, "y2": {"field": "y2"}}},
     {"data": {"values": [{"x": 7.25, "y": 1505.2}]}, "mark": {"type": "point", "shape": "wedge", "angle": 239, "size": 150, "filled": true, "color": "#111111", "opacity": 1},
      "encoding": {"x": {"field": "x", "type": "quantitative", "scale": {"domain": [0, 100], "nice": false}, "axis": null}, "y": {"field": "y", "type": "quantitative", "scale": {"domain": [1490, 1510], "nice": false, "zero": false}, "axis": null}}},
     {"data": {"values": [{"x": 66.7, "y": 1496.1}]}, "mark": {"type": "point", "shape": "wedge", "angle": 319, "size": 150, "filled": true, "color": "#111111", "opacity": 1},
      "encoding": {"x": {"field": "x", "type": "quantitative", "scale": {"domain": [0, 100], "nice": false}, "axis": null}, "y": {"field": "y", "type": "quantitative", "scale": {"domain": [1490, 1510], "nice": false, "zero": false}, "axis": null}}}
    ]}
   ],
   "resolve": {"scale": {"y": "independent"}, "axis": {"x": "independent"}}
  },
  {"width": 435, "height": 214,
   "title": {"text": "(c)", "orient": "bottom", "frame": "group", "anchor": "middle", "baseline": "middle", "offset": 11},
   "layer": [
    {"data": {"name": "c"}, "mark": {"type": "line", "color": "#0000ff", "strokeWidth": 3, "clip": true},
     "encoding": {
      "x": {"field": "t", "type": "quantitative", "scale": {"domain": [0, 100], "nice": false},
        "axis": {"title": "Time (s)", "values": [0,10,20,30,40,50,60,70,80,90,100], "grid": true, "gridColor": "#b0b0b0", "domainColor": "#505050", "labelColor": "#111111", "titleColor": "#111111", "labelPadding": 13, "labelOverlap": false, "titleFontWeight": "normal", "titleX": 217, "titleY": 44, "titleBaseline": "middle"}},
      "y": {"field": "p", "type": "quantitative", "scale": {"domain": [1000, 4000], "nice": false, "zero": false},
        "axis": {"title": "Power of SG (kW)", "format": "d", "values": [1000,1500,2000,2500,3000,3500,4000], "labelOverlap": false, "grid": true, "gridColor": "#c3caf3", "domainColor": "#0000ff", "labelColor": "#1010ee", "titleColor": "#1010ee", "titleAngle": -90, "titleAlign": "center", "titleBaseline": "middle", "titleX": -68, "titleY": 98}}}},
    {"data": {"name": "c"}, "mark": {"type": "line", "color": "#ff00ff", "strokeWidth": 2.2, "clip": true},
     "encoding": {
      "x": {"field": "t", "type": "quantitative", "scale": {"domain": [0, 100], "nice": false}, "axis": null},
      "y": {"field": "q", "type": "quantitative", "scale": {"domain": [100, 300], "nice": false, "zero": false},
        "axis": {"orient": "right", "title": "Power of PMSM (kW)", "values": [100,200,300], "labelOverlap": false, "grid": false, "domainColor": "#ff00ff", "labelColor": "#ff00ff", "titleColor": "#ff00ff", "titleAngle": -90, "titleAlign": "center", "titleBaseline": "middle", "titleX": 61, "titleY": 108}}}},
    {"resolve": {"axis": {"x": "independent", "y": "independent"}},
     "layer": [
     {"data": {"values": [{"x": 69.2, "y": 3776, "label": "Power delivered by SRDM"}]}, "mark": {"type": "text", "color": "#ff00ff", "fontSize": 24, "align": "center", "baseline": "middle"},
      "encoding": {"x": {"field": "x", "type": "quantitative", "scale": {"domain": [0, 100], "nice": false}, "axis": null}, "y": {"field": "y", "type": "quantitative", "scale": {"domain": [1000, 4000], "nice": false, "zero": false}, "axis": null}, "text": {"field": "label"}}},
     {"data": {"values": [{"x": 74.3, "y": 1322, "label": "Power output by SG"}]}, "mark": {"type": "text", "color": "#1010ee", "fontSize": 24, "align": "center", "baseline": "middle"},
      "encoding": {"x": {"field": "x", "type": "quantitative", "scale": {"domain": [0, 100], "nice": false}, "axis": null}, "y": {"field": "y", "type": "quantitative", "scale": {"domain": [1000, 4000], "nice": false, "zero": false}, "axis": null}, "text": {"field": "label"}}},
     {"data": {"values": [{"x": 43.8, "y": 3631, "x2": 39.7, "y2": 3373}, {"x": 55.9, "y": 1434, "x2": 51.4, "y2": 1809}]}, "mark": {"type": "rule", "color": "#222222", "strokeWidth": 1.2},
      "encoding": {"x": {"field": "x", "type": "quantitative", "scale": {"domain": [0, 100], "nice": false}, "axis": null}, "y": {"field": "y", "type": "quantitative", "scale": {"domain": [1000, 4000], "nice": false, "zero": false}, "axis": null}, "x2": {"field": "x2"}, "y2": {"field": "y2"}}},
     {"data": {"values": [{"x": 40.34, "y": 3414}]}, "mark": {"type": "point", "shape": "wedge", "angle": 224, "size": 150, "filled": true, "color": "#111111", "opacity": 1},
      "encoding": {"x": {"field": "x", "type": "quantitative", "scale": {"domain": [0, 100], "nice": false}, "axis": null}, "y": {"field": "y", "type": "quantitative", "scale": {"domain": [1000, 4000], "nice": false, "zero": false}, "axis": null}}},
     {"data": {"values": [{"x": 51.95, "y": 1764}]}, "mark": {"type": "point", "shape": "wedge", "angle": 324, "size": 150, "filled": true, "color": "#111111", "opacity": 1},
      "encoding": {"x": {"field": "x", "type": "quantitative", "scale": {"domain": [0, 100], "nice": false}, "axis": null}, "y": {"field": "y", "type": "quantitative", "scale": {"domain": [1000, 4000], "nice": false, "zero": false}, "axis": null}}}
    ]}
   ],
   "resolve": {"scale": {"y": "independent"}, "axis": {"x": "independent"}}
  },
  {"width": 454, "height": 214,
   "title": {"text": "(d)", "orient": "bottom", "frame": "group", "anchor": "middle", "baseline": "middle", "offset": 11},
   "layer": [
    {"data": {"name": "d_b"}, "mark": {"type": "line", "color": "#0000ff", "strokeWidth": 1.6, "clip": true},
     "encoding": {
      "x": {"field": "t", "type": "quantitative", "scale": {"domain": [0, 100], "nice": false},
        "axis": {"title": "Time (s)", "values": [0,10,20,30,40,50,60,70,80,90,100], "grid": true, "gridColor": "#b0b0b0", "domainColor": "#505050", "labelColor": "#111111", "titleColor": "#111111", "labelPadding": 13, "labelOverlap": false, "titleFontWeight": "normal", "titleX": 227, "titleY": 44, "titleBaseline": "middle"}},
      "y": {"field": "v", "type": "quantitative", "scale": {"domain": [0.4, 1.6], "nice": false, "zero": false},
        "axis": {"title": "H₂ production rate (kmol/s)", "format": ".1f", "values": [0.4,0.6,0.8,1.0,1.2,1.4,1.6], "labelOverlap": false, "grid": true, "gridColor": "#c3caf3", "domainColor": "#0000ff", "labelColor": "#1010ee", "titleColor": "#1010ee", "titleAngle": -90, "titleAlign": "center", "titleBaseline": "middle", "titleX": -61, "titleY": 109}}}},
    {"data": {"name": "d_m"}, "mark": {"type": "line", "color": "#ff00ff", "strokeWidth": 4, "clip": true},
     "encoding": {
      "x": {"field": "t", "type": "quantitative", "scale": {"domain": [0, 100], "nice": false}, "axis": null},
      "y": {"field": "v", "type": "quantitative", "scale": {"domain": [0.4, 1.6], "nice": false, "zero": false}, "axis": null}}},
    {"data": {"values": [{"x": 49.8, "y": 1.437, "label": "SRDM-based WT"}]}, "mark": {"type": "text", "color": "#1010ee", "fontSize": 24, "align": "center", "baseline": "middle"},
     "encoding": {"x": {"field": "x", "type": "quantitative", "scale": {"domain": [0, 100], "nice": false}, "axis": null}, "y": {"field": "y", "type": "quantitative", "scale": {"domain": [0.4, 1.6], "nice": false, "zero": false}, "axis": null}, "text": {"field": "label"}}},
    {"data": {"values": [{"x": 70.7, "y": 0.792, "label": "DFIG-based WT"}]}, "mark": {"type": "text", "color": "#ff00ff", "fontSize": 24, "align": "center", "baseline": "middle"},
     "encoding": {"x": {"field": "x", "type": "quantitative", "scale": {"domain": [0, 100], "nice": false}, "axis": null}, "y": {"field": "y", "type": "quantitative", "scale": {"domain": [0.4, 1.6], "nice": false, "zero": false}, "axis": null}, "text": {"field": "label"}}},
    {"data": {"values": [{"x": 36.8, "y": 1.381, "x2": 30.6, "y2": 1.168}, {"x": 56.6, "y": 0.865, "x2": 50.4, "y2": 1.005}]}, "mark": {"type": "rule", "color": "#222222", "strokeWidth": 1.2},
     "encoding": {"x": {"field": "x", "type": "quantitative", "scale": {"domain": [0, 100], "nice": false}, "axis": null}, "y": {"field": "y", "type": "quantitative", "scale": {"domain": [0.4, 1.6], "nice": false, "zero": false}, "axis": null}, "x2": {"field": "x2"}, "y2": {"field": "y2"}}},
    {"data": {"values": [{"x": 31.13, "y": 1.186}]}, "mark": {"type": "point", "shape": "wedge", "angle": 216, "size": 150, "filled": true, "color": "#111111", "opacity": 1},
     "encoding": {"x": {"field": "x", "type": "quantitative", "scale": {"domain": [0, 100], "nice": false}, "axis": null}, "y": {"field": "y", "type": "quantitative", "scale": {"domain": [0.4, 1.6], "nice": false, "zero": false}, "axis": null}}},
    {"data": {"values": [{"x": 51.06, "y": 0.99}]}, "mark": {"type": "point", "shape": "wedge", "angle": 312, "size": 150, "filled": true, "color": "#111111", "opacity": 1},
     "encoding": {"x": {"field": "x", "type": "quantitative", "scale": {"domain": [0, 100], "nice": false}, "axis": null}, "y": {"field": "y", "type": "quantitative", "scale": {"domain": [0.4, 1.6], "nice": false, "zero": false}, "axis": null}}}
   ],
   "resolve": {"axis": {"x": "independent", "y": "independent"}}
  }
]
}
